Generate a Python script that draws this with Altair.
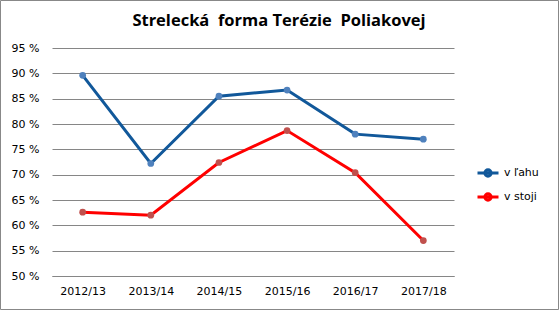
import altair as alt
import pandas as pd

seasons = ["2012/13", "2013/14", "2014/15", "2015/16", "2016/17", "2017/18"]
v_lahu = [89.6, 72.2, 85.5, 86.7, 78.0, 77.0]
v_stoji = [62.6, 62.0, 72.4, 78.7, 70.4, 57.0]
series = ["v ľahu", "v stoji"]
line_colors = ["#11589A", "#FF0000"]
point_colors = ["#4F81BD", "#C0504D"]
y_ticks = [50, 55, 60, 65, 70, 75, 80, 85, 90, 95]
title_text = "Strelecká\u00a0 forma Terézie\u00a0 Poliakovej"

rows = []
for s, vals in zip(series, [v_lahu, v_stoji]):
    for season, v in zip(seasons, vals):
        rows.append({"season": season, "value": v, "series": s})
df = pd.DataFrame(rows)

FONT = "DejaVu Sans"

x_enc = alt.X("season:O", sort=seasons, title=None,
              scale=alt.Scale(padding=0.45),
              axis=alt.Axis(labelAngle=0, ticks=False, labelPadding=9,
                            domainColor="#868686", labelFont=FONT,
                            labelFontSize=11, labelColor="#000000"))
y_enc = alt.Y("value:Q", title=None,
              scale=alt.Scale(domain=[50, 95], nice=False, zero=False),
              axis=alt.Axis(values=y_ticks, labelExpr="datum.value + ' %'",
                            ticks=False, domain=False, labelPadding=13,
                            gridColor="#868686", gridWidth=1,
                            labelFont=FONT, labelFontSize=11,
                            labelColor="#000000"))

lines = alt.Chart(df).mark_line(strokeWidth=3).encode(
    x=x_enc, y=y_enc,
    color=alt.Color("series:N", sort=series,
                    scale=alt.Scale(domain=series, range=line_colors),
                    legend=alt.Legend(
                        title=None, orient="none", legendX=424, legendY=113,
                        symbolType="M-1,0L1,0M0.3,0A0.3,0.3,0,1,1,-0.3,0A0.3,0.3,0,1,1,0.3,0",
                        symbolSize=441, symbolStrokeWidth=3,
                        rowPadding=2, labelFont=FONT, labelFontSize=11,
                        labelColor="#000000", labelOffset=4)),
)

points = alt.Chart(df).mark_circle(size=45, opacity=1).encode(
    x=x_enc, y=y_enc,
    color=alt.Color("series:N", sort=series,
                    scale=alt.Scale(domain=series, range=point_colors),
                    legend=None),
)

frame = alt.Chart(alt.Data(values=[{}])).mark_rect(
    fill=None, stroke="#888888", strokeWidth=1
).encode(
    x=alt.value(-51.5), x2=alt.value(506.5),
    y=alt.value(-47.5), y2=alt.value(261.5),
)

chart = alt.layer(frame, lines, points).resolve_scale(color="independent").properties(
    width=402, height=228,
    title=alt.Title(title_text, font="Open Sans", fontSize=16.5, fontWeight="bold",
                    color="#000000", anchor="middle", frame="group", dx=26,
                    offset=17, dy=46),
    padding={"left": 52, "top": 48, "right": 105, "bottom": 34},
    autosize=alt.AutoSizeParams(type="none"),
    background="#ffffff",
).configure_view(stroke=None)

chart.save("out.html", embed_options={"renderer": "svg", "actions": False})
